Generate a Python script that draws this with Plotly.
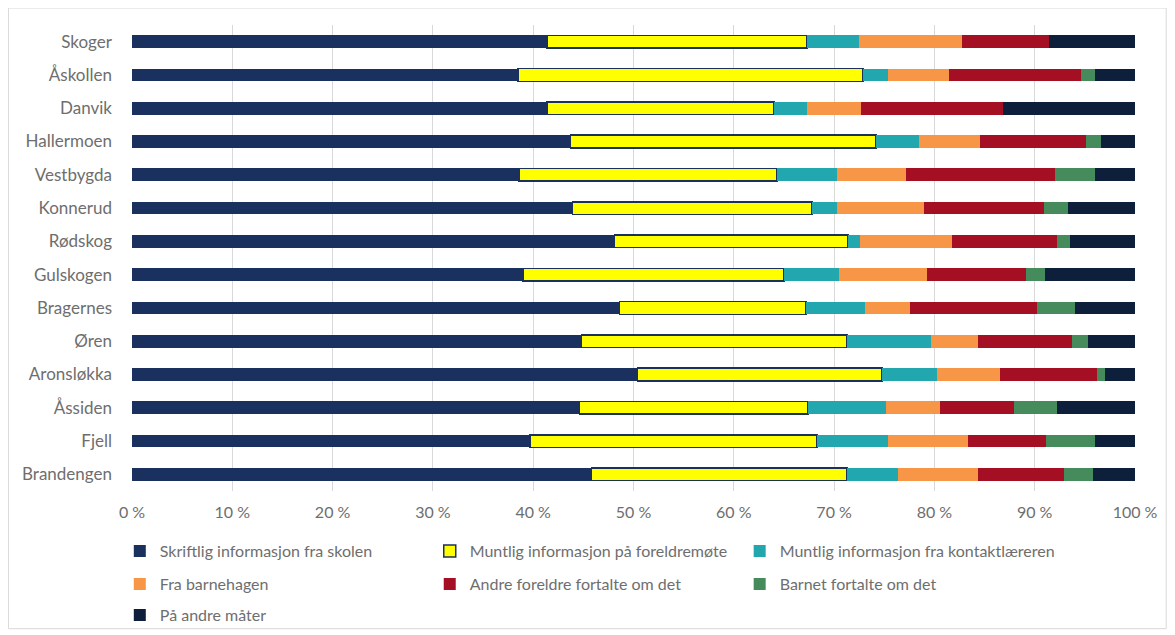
import plotly.graph_objects as go

skoler = ["Skoger", "Åskollen", "Danvik", "Hallermoen", "Vestbygda", "Konnerud", "Rødskog",
          "Gulskogen", "Bragernes", "Øren", "Aronsløkka", "Åssiden", "Fjell", "Brandengen"]

skriftlig = [41.4, 38.5, 41.4, 43.7, 38.6, 43.9, 48.1, 39.0, 48.6, 44.8, 50.4, 44.6, 39.7, 45.8]
foreldremote = [25.9, 34.4, 22.6, 30.5, 25.7, 23.9, 23.3, 26.0, 18.6, 26.5, 24.4, 22.8, 28.6, 25.5]
kontaktlarer = [5.2, 2.5, 3.3, 4.3, 6.0, 2.5, 1.2, 5.5, 5.9, 8.4, 5.5, 7.8, 7.1, 5.1]
barnehagen = [10.3, 6.1, 5.4, 6.0, 6.9, 8.7, 9.2, 8.8, 4.5, 4.6, 6.2, 5.4, 7.9, 7.9]
andre_foreldre = [8.6, 13.1, 14.1, 10.6, 14.8, 11.9, 10.4, 9.8, 12.6, 9.4, 9.7, 7.3, 7.8, 8.6]
barnet = [0, 1.4, 0, 1.5, 4.0, 2.4, 1.3, 1.9, 3.8, 1.6, 0.8, 4.3, 4.9, 2.9]
andre_mater = [8.6, 4.0, 13.2, 3.4, 4.0, 6.7, 6.5, 9.0, 6.0, 4.7, 3.0, 7.8, 4.0, 4.2]

prosent_ticks = list(range(0, 101, 10))
prosent_tekst = [f"{v} %" for v in prosent_ticks]

# (name, values, colour, legend column, legend row)
serier = [
    ("Skriftlig informasjon fra skolen", skriftlig, "#1A3160", 0, 0),
    ("Muntlig informasjon på foreldremøte", foreldremote, "#FFFF00", 1, 0),
    ("Muntlig informasjon fra kontaktlæreren", kontaktlarer, "#23A7AF", 2, 0),
    ("Fra barnehagen", barnehagen, "#F79646", 0, 1),
    ("Andre foreldre fortalte om det", andre_foreldre, "#A50F24", 1, 1),
    ("Barnet fortalte om det", barnet, "#468B5C", 2, 1),
    ("På andre måter", andre_mater, "#0D1F3A", 0, 2),
]

font = "Lato, 'Open Sans', sans-serif"
grey = "#6E6E6E"

# page body has an 8px margin, so figure px = screen px - 8
# plot area on screen: x 131.6..1134.8, y 25..492
kol_px = [132, 442, 752]
rad_px = [551, 584, 615]

fig = go.Figure()
legends = {}
for i, (navn, verdier, farge, kol, rad) in enumerate(serier):
    if farge == "#FFFF00":
        line = {"color": "#1A3160", "width": 1.5}
    else:
        line = {"width": 0}
    leg = "legend" if i == 0 else f"legend{i + 1}"
    fig.add_trace(go.Bar(
        y=skoler, x=verdier, name=navn, orientation="h",
        marker={"color": farge, "line": line},
        legend=leg, showlegend=True,
    ))
    legends[leg] = dict(
        orientation="h", xanchor="left", yanchor="middle",
        x=(kol_px[kol] - 12.6 - 131.6) / 1003.2,
        y=(492 - rad_px[rad]) / 467,
        font={"family": font, "size": 16, "color": grey}, bgcolor="rgba(0,0,0,0)",
        visible=True,
    )

fig.update_layout(
    barmode="stack",
    bargap=0.62,
    showlegend=True,
    width=1175,
    height=635,
    paper_bgcolor="white",
    plot_bgcolor="white",
    margin={"l": 123.6, "r": 48.2, "t": 17, "b": 151},
    font={"family": font, "size": 16, "color": grey},
    xaxis={
        "range": [0, 100], "tickvals": prosent_ticks, "ticktext": prosent_tekst,
        "showgrid": True, "gridcolor": "#D9D9D9", "gridwidth": 1, "zeroline": False,
        "showline": False, "ticklabelstandoff": 10,
        "tickfont": {"family": font, "size": 16, "color": grey},
    },
    yaxis={
        "autorange": "reversed", "showgrid": False, "showline": False,
        "ticklabelstandoff": 19,
        "tickfont": {"family": font, "size": 17, "color": grey},
    },
    shapes=[{
        "type": "rect", "xref": "paper", "yref": "paper",
        "x0": (8 - 131.6) / 1003.2, "x1": (1166 - 131.6) / 1003.2,
        "y0": (492 - 630) / 467, "y1": (492 - 8) / 467,
        "line": {"color": "#D9D9D9", "width": 1}, "layer": "below",
    }],
    **legends,
)

fig.write_html("out.html")
